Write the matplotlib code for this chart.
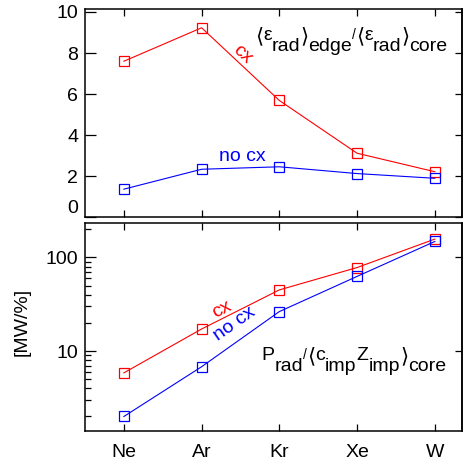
import numpy as np
import matplotlib
matplotlib.use('Agg')
import matplotlib.pyplot as plt
from matplotlib.transforms import offset_copy
from matplotlib.ticker import LogLocator, NullFormatter, NullLocator, FormatStrFormatter

plt.rcParams['font.family'] = ['Liberation Sans', 'DejaVu Sans']
plt.rcParams['font.size'] = 14

# data
elements = ['Ne', 'Ar', 'Kr', 'Xe', 'W']
ratio_cx = [7.6, 9.23, 5.69, 3.12, 2.22]
ratio_nocx = [1.37, 2.34, 2.46, 2.13, 1.90]
prad_cx = [5.85, 17.2, 45.0, 78.0, 157.0]
prad_nocx = [2.0, 6.8, 26.4, 62.7, 148.0]

W, H = 466, 461
fig = plt.figure(figsize=(W / 100, H / 100), dpi=100)
ax1 = fig.add_axes([85 / W, 1 - 217.3 / H, 377 / W, 208 / H])
ax2 = fig.add_axes([85 / W, 1 - 431 / H, 377 / W, 208.3 / H])

x = np.arange(len(elements))
line_kw = dict(marker='s', markersize=7.5, markerfacecolor='none',
               markeredgewidth=0.9, linewidth=0.8)

ax1.plot(x, ratio_cx, color='red', **line_kw)
ax1.plot(x, ratio_nocx, color='blue', **line_kw)
ax2.plot(x, prad_cx, color='red', **line_kw)
ax2.plot(x, prad_nocx, color='blue', **line_kw)

ax2.set_yscale('log')

for ax in (ax1, ax2):
    ax.set_xlim(-0.5, 4.35)
    ax.set_xticks(x)
    for sp in ax.spines.values():
        sp.set_linewidth(1.1)
    ax.tick_params(axis='x', direction='in', length=5, width=0.9, top=True, pad=9)
    ax.tick_params(axis='y', which='major', direction='in', length=8, width=0.9,
                   right=False, pad=5)

ax1.set_ylim(0, 10.13)
ax1.set_yticks([0, 2, 4, 6, 8, 10])
ax1.set_xticklabels([])
ax2.set_xticklabels(elements)

ax2.set_ylim(1.4, 235)
ax2.yaxis.set_major_locator(LogLocator(base=10, numticks=5))
ax2.yaxis.set_major_formatter(FormatStrFormatter('%d'))
ax2.yaxis.set_minor_locator(LogLocator(base=10, subs=np.arange(2, 10), numticks=10))
ax2.yaxis.set_minor_formatter(NullFormatter())
ax2.tick_params(axis='y', which='minor', direction='in', length=4, width=0.9, right=False)

# shorter ticks on the right side
for ax in (ax1, ax2):
    sec = ax.secondary_yaxis('right')
    sec.tick_params(direction='in', length=5, width=0.9, labelright=False)
    if ax is ax1:
        sec.set_yticks([0, 2, 4, 6, 8, 10])
    else:
        sec.set_yticks([10, 100])
        sec.yaxis.set_minor_locator(NullLocator())
    sec.spines['right'].set_linewidth(1.1)

ax1.yaxis.get_major_ticks()[0].label1.set_verticalalignment('bottom')

# curve labels
ax1.text(1.52, 7.95, 'cx', color='red', rotation=-43, ha='center', va='center',
         rotation_mode='anchor', fontsize=14)
ax1.text(1.53, 2.95, 'no cx', color='blue', ha='center', va='center', fontsize=14)
ax2.text(1.26, 27.8, 'cx', color='red', rotation=27, ha='center', va='center',
         rotation_mode='anchor', fontsize=14)
ax2.text(1.42, 19.5, 'no cx', color='blue', rotation=35, ha='center', va='center',
         rotation_mode='anchor', fontsize=14)

fig.text(22.5 / W, 1 - 322 / H, '[MW/%]', rotation=90, ha='center', va='center', fontsize=14)


def chain_text(x_px, y_px, parts):
    renderer = fig.canvas.get_renderer()
    dx = 0.0
    for s, dy, size in parts:
        tr = offset_copy(fig.transFigure, fig=fig, x=dx, y=dy, units='dots')
        t = fig.text(x_px / W, 1 - y_px / H, s, transform=tr, fontsize=size,
                     ha='left', va='baseline')
        dx += t.get_window_extent(renderer).width


sub = -11
lb, rb = '\u27e8', '\u27e9'
chain_text(255, 40, [(lb, -2, 15), ('\u03b5', 0, 14), ('rad', sub, 14), (rb, -2, 15),
                     ('edge', sub, 14), ('/', 1, 10), (lb, -2, 15), ('\u03b5', 0, 14),
                     ('rad', sub, 14), (rb, -2, 15), ('core', sub, 14)])
chain_text(261.7, 360, [('P', 0, 14), ('rad', sub, 14), ('/', 1, 10),
                        (lb, -2, 15), ('c', 0, 14), ('imp', sub, 14), ('Z', 0, 14),
                        ('imp', sub, 14), (rb, -2, 15), ('core', sub, 14)])

fig.savefig('out.png', dpi=100)
